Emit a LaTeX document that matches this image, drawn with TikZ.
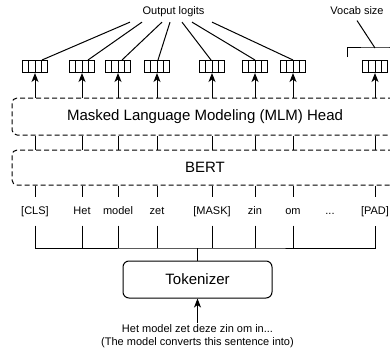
\documentclass[tikz,border=0pt]{standalone}
\usepackage{fontspec}
\setmainfont{Liberation Sans}
\usetikzlibrary{arrows.meta, calc, positioning}
\tikzset{%
	logit/.style={draw, minimum width=25pt, minimum height=12pt, inner sep=0pt,%
		path picture={%
			\draw ($(path picture bounding box.south west)!0.25!(path picture bounding box.south east)$)
				-- ($(path picture bounding box.north west)!0.25!(path picture bounding box.north east)$);
			\draw ($(path picture bounding box.south west)!0.5!(path picture bounding box.south east)$)
				-- ($(path picture bounding box.north west)!0.5!(path picture bounding box.north east)$);
			\draw ($(path picture bounding box.south west)!0.75!(path picture bounding box.south east)$)
				-- ($(path picture bounding box.north west)!0.75!(path picture bounding box.north east)$);}},
	block/.style={draw, dash pattern=on 5pt off 3pt, rounded corners=5pt, minimum width=386pt,%
		inner sep=0pt, font=\fontsize{15}{18}\selectfont},
	tokbox/.style={draw, rounded corners=6pt, minimum width=149pt, minimum height=37pt,%
		inner sep=0pt, font=\fontsize{15}{18}\selectfont},
	word/.style={inner xsep=0pt, inner ysep=9pt, text height=8pt, text depth=2pt,%
		font=\fontsize{11}{13}\selectfont},
	caption/.style={inner xsep=0pt, inner ysep=5pt, font=\fontsize{11}{13}\selectfont},
	connector/.style={},
	feed/.style={-{Stealth[length=9pt, width=7pt, inset=2.5pt]}}
}
\begin{document}
\begin{tikzpicture}[x=1pt, y=-1pt, line width=1pt]
	\clip (0,0) rectangle (390,353);
	% captions on top
	\node[caption] (out) at (173.5,11.5) {Output logits};
	\node[caption] (voc) at (357,11) {Vocab size};
	% logit vectors
	\node[logit] (l1) at (35,66.5) {};
	\node[logit] (l2) at (82,66.5) {};
	\node[logit] (l3) at (118,66.5) {};
	\node[logit] (l4) at (157,66.5) {};
	\node[logit] (l5) at (212,66.5) {};
	\node[logit] (l6) at (255,66.5) {};
	\node[logit] (l7) at (293,66.5) {};
	\node[logit] (lv) at (375,66.5) {};
	% heads
	\node[block, minimum height=37pt] (mlm) at (205,116.5) {Masked Language Modeling (MLM) Head};
	\node[block, minimum height=35pt] (bert) at (205,167.5) {BERT};
	% tokens
	\node[word] (t1) at (35,211) {[CLS]};
	\node[word] (t2) at (82,211) {Het};
	\node[word] (t3) at (118,211) {model};
	\node[word] (t4) at (157,211) {zet};
	\node[word] (t5) at (212,211) {[MASK]};
	\node[word] (t6) at (255,211) {zin};
	\node[word] (t7) at (293,211) {om};
	\node[word] (t8) at (330,211) {...};
	\node[word] (t9) at (375,211) {[PAD]};
	\coordinate (bus) at (197.5,248);
	\node[tokbox] (tok) at (197.5,279.5) {Tokenizer};
	\node[caption, inner ysep=1pt, align=center] (src) at (197.5,336)
		{Het model zet deze zin om in...\\(The model converts this sentence into)};

	\draw [connector] ([xshift=-43.5pt]out.south) to ([xshift=7pt]l1.north);
	\draw [connector] ([xshift=-31.5pt]out.south) to ([xshift=6pt]l2.north);
	\draw [connector] ([xshift=-11.5pt]out.south) to ([xshift=4pt]l3.north);
	\draw [connector] ([xshift=-3.5pt]out.south) to ([xshift=1pt]l4.north);
	\draw [connector] ([xshift=8.5pt]out.south) to ([xshift=-1pt]l5.north);
	\draw [connector] ([xshift=18.5pt]out.south) to (l6.north);
	\draw [connector] ([xshift=38.5pt]out.south) to (l7.north);
	% vocab bracket
	\coordinate (brace) at (375,48);
	\draw [connector] (347,57) |- (brace) -| (403,57);
	\draw [connector] (voc.south) to (brace);

	\draw [feed] (l1 |- mlm.north) to (l1);
	\draw [feed] (l2 |- mlm.north) to (l2);
	\draw [feed] (l3 |- mlm.north) to (l3);
	\draw [feed] (l4 |- mlm.north) to (l4);
	\draw [feed] (l5 |- mlm.north) to (l5);
	\draw [feed] (l6 |- mlm.north) to (l6);
	\draw [feed] (l7 |- mlm.north) to (l7);
	\draw [feed] (lv |- mlm.north) to (lv);

	\draw [connector] (t1 |- bert.north) to (t1 |- mlm.south);
	\draw [connector] (t2 |- bert.north) to (t2 |- mlm.south);
	\draw [connector] (t3 |- bert.north) to (t3 |- mlm.south);
	\draw [connector] (t4 |- bert.north) to (t4 |- mlm.south);
	\draw [connector] (t5 |- bert.north) to (t5 |- mlm.south);
	\draw [connector] (t6 |- bert.north) to (t6 |- mlm.south);
	\draw [connector] (t7 |- bert.north) to (t7 |- mlm.south);
	\draw [connector] (t9 |- bert.north) to (t9 |- mlm.south);

	\draw [connector] (t1 |- bert.south) to (t1.north);
	\draw [connector] (t2 |- bert.south) to (t2.north);
	\draw [connector] (t3 |- bert.south) to (t3.north);
	\draw [connector] (t4 |- bert.south) to (t4.north);
	\draw [connector] (t5 |- bert.south) to (t5.north);
	\draw [connector] (t6 |- bert.south) to (t6.north);
	\draw [connector] (t7 |- bert.south) to (t7.north);
	\draw [connector] (t9 |- bert.south) to (t9.north);

	\draw [connector] (t1.south) |- (bus) -| (t9.south);
	\draw [connector] (t2.south) to (t2 |- bus);
	\draw [connector] (t3.south) to (t3 |- bus);
	\draw [connector] (t4.south) to (t4 |- bus);
	\draw [connector] (t5.south) to (t5 |- bus);
	\draw [connector] (t6.south) to (t6 |- bus);
	\draw [connector] (t7.south) to (t7 |- bus);
	\draw [connector] (bus) to (tok.north);
	\draw [feed] (src) to (tok);
\end{tikzpicture}
\end{document}
